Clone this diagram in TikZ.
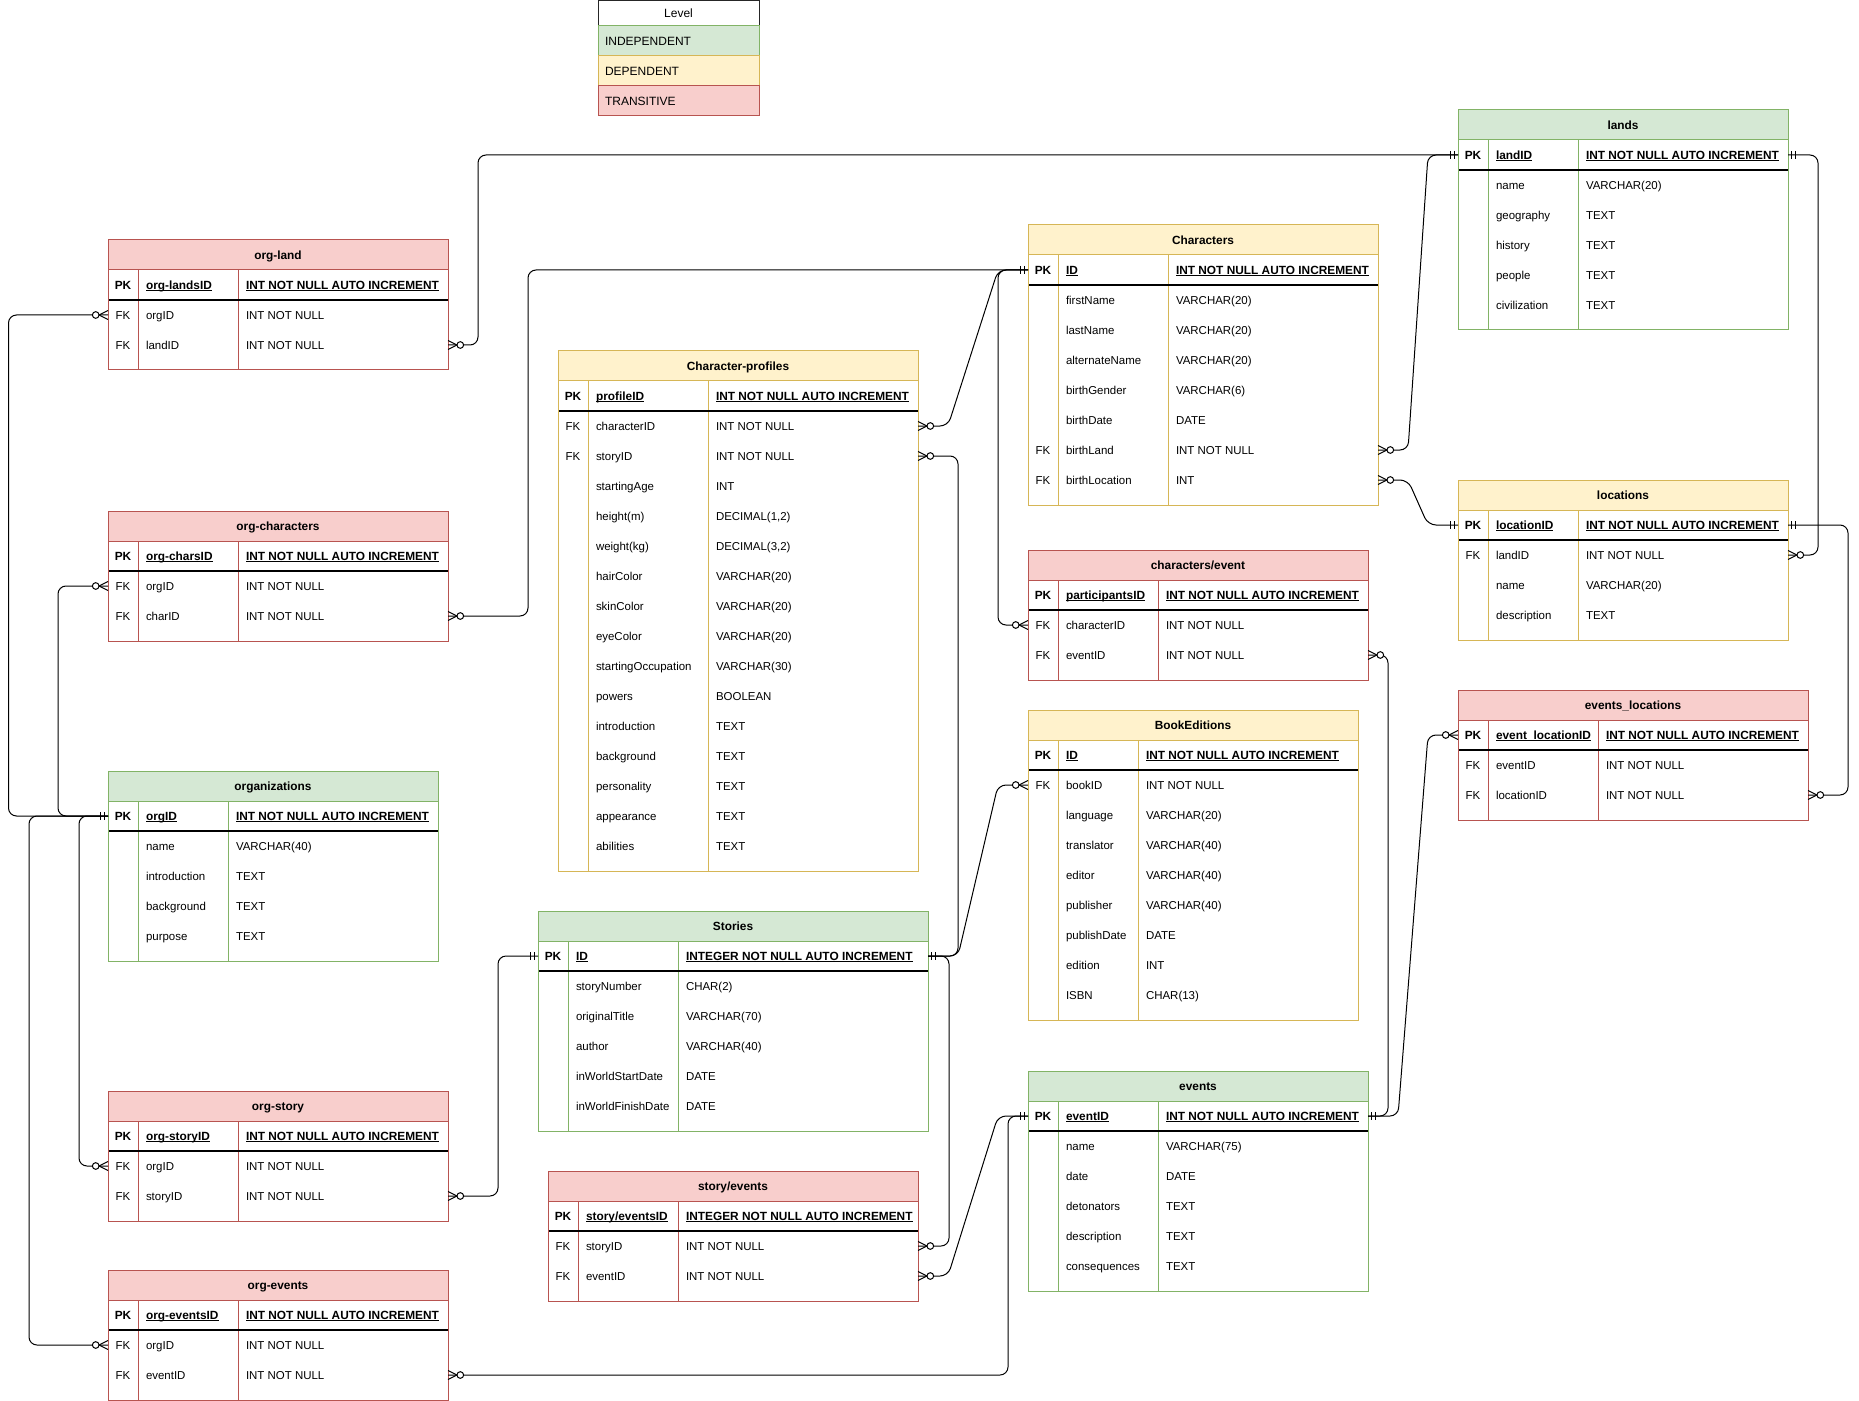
\documentclass[tikz,border=0pt]{standalone}
\usepackage{fontspec}
\setmainfont{Liberation Sans}
\usetikzlibrary{calc}

% palette: g = independent, y = dependent, r = transitive
\definecolor{gfill}{HTML}{D5E8D4}\definecolor{gline}{HTML}{82B366}
\definecolor{yfill}{HTML}{FFF2CC}\definecolor{yline}{HTML}{D6B656}
\definecolor{rfill}{HTML}{F8CECC}\definecolor{rline}{HTML}{B85450}

\tikzset{
  tableline/.style={line width=0.75pt},
  pkrule/.style={draw=black,line width=0.9pt},
  conn/.style={draw=black,line width=0.75pt,line join=round},
  wire/.style={conn,rounded corners=6pt},
  celltext/.style={font=\fontsize{8.6}{10}\selectfont,inner sep=0pt,outer sep=0pt},
  titletext/.style={celltext,font=\fontsize{8.9}{10}\selectfont\bfseries,anchor=base},
  legendtext/.style={inner sep=0pt,outer sep=0pt,font=\fontsize{9}{11}\selectfont},
  rowcell/.style={draw=none,inner sep=0pt,outer sep=0pt,minimum height=22.5pt},
}

% bold underlined text of a primary-key row
\newcommand\pkl[1]{\setbox0\hbox{\fontsize{8.9}{10}\selectfont\bfseries #1}\rlap{\rule[-1.3pt]{\wd0}{0.6pt}}\box0}

% table frame: id, x, top, width, name-column width, palette, title, rows
\newcommand\ertable[8]{%
  \def\tid{#1}\def\tx{#2}\def\ty{#3}\def\tw{#4}\def\tn{#5}%
  \pgfmathsetmacro\tb{#3+40+30*#8}%
  \fill[white] (#2,#3) rectangle (#2+#4,\tb);
  \fill[#6fill] (#2,#3) rectangle (#2+#4,#3+30);
  \draw[#6line,tableline] (#2+30,#3+30) -- (#2+30,\tb) (#2+30+#5,#3+30) -- (#2+30+#5,\tb);
  \draw[pkrule] (#2,#3+60) -- (#2+#4,#3+60);
  \draw[#6line,tableline] (#2,#3) rectangle (#2+#4,\tb) (#2,#3+30) -- (#2+#4,#3+30);
  \node[titletext] (#1) at (#2+#4/2,#3+19.2) {#7};
}

% one row: index, key, column name, type
\newcommand\errow[4]{%
  \pgfmathsetmacro\ry{\ty+45+30*#1}%
  \pgfmathsetmacro\rw{\tw*0.75}%
  \node[rowcell,minimum width=\rw pt] (\tid-#1) at (\tx+\tw/2,\ry) {};
  \node[celltext,anchor=base] (\tid-#1-k) at (\tx+15,\ry+4.1) {#2};
  \node[celltext,anchor=base west] (\tid-#1-n) at (\tx+38,\ry+4.1) {#3};
  \node[celltext,anchor=base west] (\tid-#1-t) at (\tx+38+\tn,\ry+4.1) {#4};
}
\newcommand\pkrow[2]{\errow{0}{\fontsize{8.9}{10}\selectfont\bfseries PK}{\pkl{#1}}{\pkl{#2}}}

% relationship ends: anchor, direction in which the line leaves (1 right, -1 left)
\newcommand\mone[2]{%
  \draw[conn] ($(#1)+(#2*3.5,-4)$) -- ++(0,8) ($(#1)+(#2*7.5,-4)$) -- ++(0,8);
}
\newcommand\zmany[2]{%
  \draw[conn] ($(#1)+(0,-4.5)$) -- ($(#1)+(#2*9,0)$) -- ($(#1)+(0,4.5)$);
  \draw[conn,fill=white] ($(#1)+(#2*12.3,0)$) circle[radius=2.5pt];
}

\begin{document}
\begin{tikzpicture}[x=0.75pt,y=-0.75pt]
\useasboundingbox (0,0) rectangle (1859,1401);
\fill[white] (0,0) rectangle (1859,1401);

% ---------- legend ----------
\draw[black!85,line width=0.75pt,fill=white] (598,1) rectangle (759,26);
\node[legendtext,anchor=base] (legend) at (678.5,17.8) {Level};
\draw[gline,line width=0.75pt,fill=gfill] (598,26) rectangle (759,56);
\node[legendtext,anchor=base west] (legend-ind) at (605,45.3) {INDEPENDENT};
\draw[yline,line width=0.75pt,fill=yfill] (598,56) rectangle (759,86);
\node[legendtext,anchor=base west] (legend-dep) at (605,75.3) {DEPENDENT};
\draw[rline,line width=0.75pt,fill=rfill] (598,86) rectangle (759,116);
\node[legendtext,anchor=base west] (legend-tra) at (605,105.3) {TRANSITIVE};

% ---------- tables ----------
\ertable{orgland}{108}{240}{340}{100}{r}{org-land}{3}
\pkrow{org-landsID}{INT NOT NULL AUTO INCREMENT}
\errow{1}{FK}{orgID}{INT NOT NULL}
\errow{2}{FK}{landID}{INT NOT NULL}

\ertable{orgchars}{108}{511}{340}{100}{r}{org-characters}{3}
\pkrow{org-charsID}{INT NOT NULL AUTO INCREMENT}
\errow{1}{FK}{orgID}{INT NOT NULL}
\errow{2}{FK}{charID}{INT NOT NULL}

\ertable{orgs}{108}{771}{330}{90}{g}{organizations}{5}
\pkrow{orgID}{INT NOT NULL AUTO INCREMENT}
\errow{1}{}{name}{VARCHAR(40)}
\errow{2}{}{introduction}{TEXT}
\errow{3}{}{background}{TEXT}
\errow{4}{}{purpose}{TEXT}

\ertable{orgstory}{108}{1091}{340}{100}{r}{org-story}{3}
\pkrow{org-storyID}{INT NOT NULL AUTO INCREMENT}
\errow{1}{FK}{orgID}{INT NOT NULL}
\errow{2}{FK}{storyID}{INT NOT NULL}

\ertable{orgevents}{108}{1270}{340}{100}{r}{org-events}{3}
\pkrow{org-eventsID}{INT NOT NULL AUTO INCREMENT}
\errow{1}{FK}{orgID}{INT NOT NULL}
\errow{2}{FK}{eventID}{INT NOT NULL}

\ertable{profiles}{558}{351}{360}{120}{y}{Character-profiles}{16}
\pkrow{profileID}{INT NOT NULL AUTO INCREMENT}
\errow{1}{FK}{characterID}{INT NOT NULL}
\errow{2}{FK}{storyID}{INT NOT NULL}
\errow{3}{}{startingAge}{INT}
\errow{4}{}{height(m)}{DECIMAL(1,2)}
\errow{5}{}{weight(kg)}{DECIMAL(3,2)}
\errow{6}{}{hairColor}{VARCHAR(20)}
\errow{7}{}{skinColor}{VARCHAR(20)}
\errow{8}{}{eyeColor}{VARCHAR(20)}
\errow{9}{}{startingOccupation}{VARCHAR(30)}
\errow{10}{}{powers}{BOOLEAN}
\errow{11}{}{introduction}{TEXT}
\errow{12}{}{background}{TEXT}
\errow{13}{}{personality}{TEXT}
\errow{14}{}{appearance}{TEXT}
\errow{15}{}{abilities}{TEXT}

\ertable{stories}{538}{911}{390}{110}{g}{Stories}{6}
\pkrow{ID}{INTEGER NOT NULL AUTO INCREMENT}
\errow{1}{}{storyNumber}{CHAR(2)}
\errow{2}{}{originalTitle}{VARCHAR(70)}
\errow{3}{}{author}{VARCHAR(40)}
\errow{4}{}{inWorldStartDate}{DATE}
\errow{5}{}{inWorldFinishDate}{DATE}

\ertable{storyevents}{548}{1171}{370}{100}{r}{story/events}{3}
\pkrow{story/eventsID}{INTEGER NOT NULL AUTO INCREMENT}
\errow{1}{FK}{storyID}{INT NOT NULL}
\errow{2}{FK}{eventID}{INT NOT NULL}

\ertable{chars}{1028}{225}{350}{110}{y}{Characters}{8}
\pkrow{ID}{INT NOT NULL AUTO INCREMENT}
\errow{1}{}{firstName}{VARCHAR(20)}
\errow{2}{}{lastName}{VARCHAR(20)}
\errow{3}{}{alternateName}{VARCHAR(20)}
\errow{4}{}{birthGender}{VARCHAR(6)}
\errow{5}{}{birthDate}{DATE}
\errow{6}{FK}{birthLand}{INT NOT NULL}
\errow{7}{FK}{birthLocation}{INT}

\ertable{charevent}{1028}{550}{340}{100}{r}{characters/event}{3}
\pkrow{participantsID}{INT NOT NULL AUTO INCREMENT}
\errow{1}{FK}{characterID}{INT NOT NULL}
\errow{2}{FK}{eventID}{INT NOT NULL}

\ertable{books}{1028}{710}{330}{80}{y}{BookEditions}{9}
\pkrow{ID}{INT NOT NULL AUTO INCREMENT}
\errow{1}{FK}{bookID}{INT NOT NULL}
\errow{2}{}{language}{VARCHAR(20)}
\errow{3}{}{translator}{VARCHAR(40)}
\errow{4}{}{editor}{VARCHAR(40)}
\errow{5}{}{publisher}{VARCHAR(40)}
\errow{6}{}{publishDate}{DATE}
\errow{7}{}{edition}{INT}
\errow{8}{}{ISBN}{CHAR(13)}

\ertable{events}{1028}{1071}{340}{100}{g}{events}{6}
\pkrow{eventID}{INT NOT NULL AUTO INCREMENT}
\errow{1}{}{name}{VARCHAR(75)}
\errow{2}{}{date}{DATE}
\errow{3}{}{detonators}{TEXT}
\errow{4}{}{description}{TEXT}
\errow{5}{}{consequences}{TEXT}

\ertable{lands}{1458}{110}{330}{90}{g}{lands}{6}
\pkrow{landID}{INT NOT NULL AUTO INCREMENT}
\errow{1}{}{name}{VARCHAR(20)}
\errow{2}{}{geography}{TEXT}
\errow{3}{}{history}{TEXT}
\errow{4}{}{people}{TEXT}
\errow{5}{}{civilization}{TEXT}

\ertable{locations}{1458}{480}{330}{90}{y}{locations}{4}
\pkrow{locationID}{INT NOT NULL AUTO INCREMENT}
\errow{1}{FK}{landID}{INT NOT NULL}
\errow{2}{}{name}{VARCHAR(20)}
\errow{3}{}{description}{TEXT}

\ertable{evloc}{1458}{690}{350}{110}{r}{events\_locations}{3}
\pkrow{event\_locationID}{INT NOT NULL AUTO INCREMENT}
\errow{1}{FK}{eventID}{INT NOT NULL}
\errow{2}{FK}{locationID}{INT NOT NULL}

% ---------- relationships ----------
% orthogonal routes
\draw[wire] (orgland-2.east) -- ++(30,0) |- (lands-0.west);
\draw[wire] (orgchars-2.east) -- ++(80,0) |- (chars-0.west);
\draw[wire] (charevent-1.west) -- ++(-30,0) |- (chars-0.west);
\draw[wire] (profiles-2.east) -- ++(40,0) |- (stories-0.east);
\draw[wire] (storyevents-1.east) -- ++(31,0) |- (stories-0.east);
\draw[wire] (orgevents-2.east) -- ++(560,0) |- (events-0.west);
\draw[wire] (charevent-2.east) -- ++(20,0) |- (events-0.east);
\draw[wire] (locations-1.east) -- ++(30,0) |- (lands-0.east);
\draw[wire] (evloc-2.east) -- ++(40,0) |- (locations-0.east);
\draw[wire] (orgland-1.west) -- ++(-99.5,0) |- (orgs-0.west);
\draw[wire] (orgchars-1.west) -- ++(-50,0) |- (orgs-0.west);
\draw[wire] (orgstory-1.west) -- ++(-29,0) |- (orgs-0.west);
\draw[wire] (orgevents-1.west) -- ++(-79,0) |- (orgs-0.west);
\draw[wire] (orgstory-2.east) -- ++(50,0) |- (stories-0.west);
% entity-relation routes (stub, slant, stub)
\draw[wire] (profiles-1.east) -- ++(30,0) -- ($(chars-0.west)+(-30,0)$) -- (chars-0.west);
\draw[wire] (stories-0.east) -- ++(30,0) -- ($(books-1.west)+(-30,0)$) -- (books-1.west);
\draw[wire] (storyevents-2.east) -- ++(30,0) -- ($(events-0.west)+(-30,0)$) -- (events-0.west);
\draw[wire] (chars-7.east) -- ++(30,0) -- ($(locations-0.west)+(-30,0)$) -- (locations-0.west);
\draw[wire] (chars-6.east) -- ++(30,0) -- ($(lands-0.west)+(-30,0)$) -- (lands-0.west);
\draw[wire] (events-0.east) -- ++(30,0) -- ($(evloc-0.west)+(-30,0)$) -- (evloc-0.west);

% mandatory-one ends
\mone{lands-0.west}{-1}
\mone{lands-0.east}{1}
\mone{chars-0.west}{-1}
\mone{stories-0.east}{1}
\mone{stories-0.west}{-1}
\mone{events-0.west}{-1}
\mone{events-0.east}{1}
\mone{locations-0.west}{-1}
\mone{locations-0.east}{1}
\mone{orgs-0.west}{-1}

% zero-to-many ends
\zmany{orgland-2.east}{1}
\zmany{orgland-1.west}{-1}
\zmany{orgchars-2.east}{1}
\zmany{orgchars-1.west}{-1}
\zmany{orgstory-1.west}{-1}
\zmany{orgstory-2.east}{1}
\zmany{orgevents-1.west}{-1}
\zmany{orgevents-2.east}{1}
\zmany{profiles-1.east}{1}
\zmany{profiles-2.east}{1}
\zmany{charevent-1.west}{-1}
\zmany{charevent-2.east}{1}
\zmany{books-1.west}{-1}
\zmany{storyevents-1.east}{1}
\zmany{storyevents-2.east}{1}
\zmany{chars-6.east}{1}
\zmany{chars-7.east}{1}
\zmany{locations-1.east}{1}
\zmany{evloc-2.east}{1}
\zmany{evloc-0.west}{-1}
\end{tikzpicture}
\end{document}
